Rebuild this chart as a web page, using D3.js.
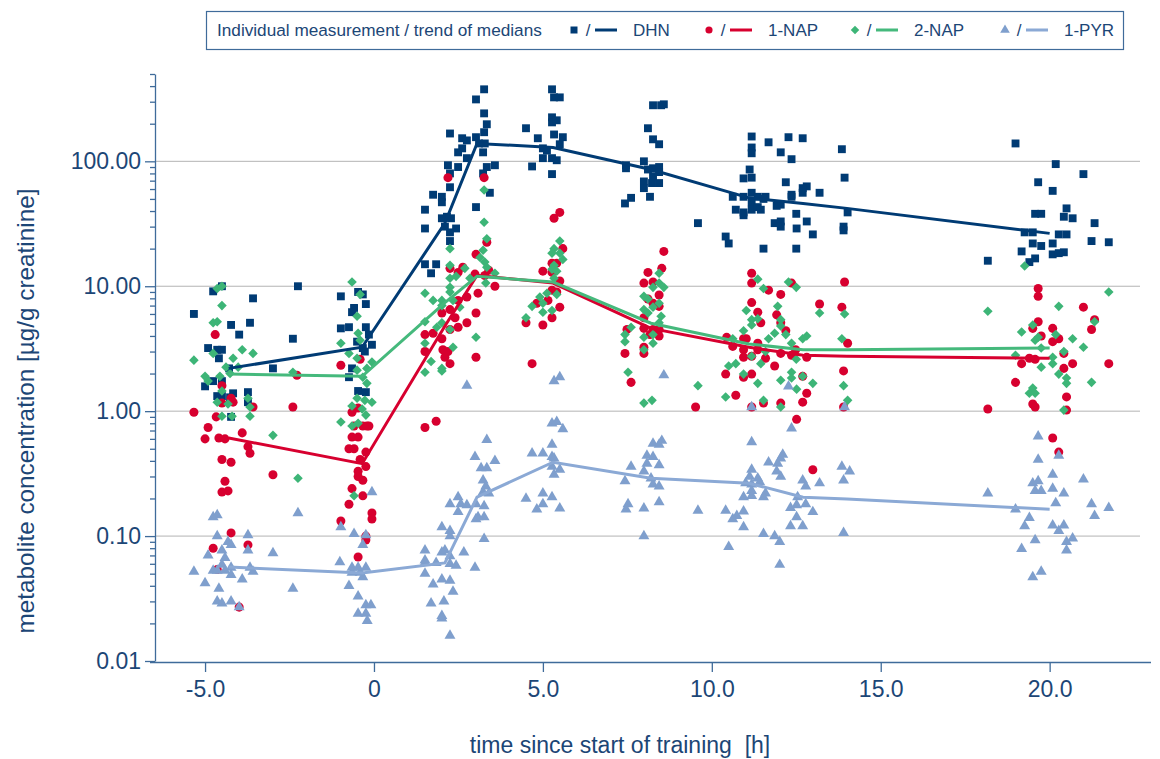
<!DOCTYPE html>
<html>
<head>
<meta charset="utf-8">
<script src="https://cdn.jsdelivr.net/npm/d3@7"></script>
<style>
  body { margin: 0; background: #fff; }
  text { font-family: "Liberation Sans", Arial, sans-serif; }
</style>
</head>
<body>
<div id="chart"></div>
<script>
// Individual measurements: [hours since start of training, µg/g creatinine]
const dhnPoints = [
  [-5.33,6.0],[-4.76,9.1],[-4.5,10],[-3.58,8.0],[-4.23,4.9],[-3.67,5.1],[-3.99,4.1],[-4.91,3.2],[-4.64,3.1],[-4.5,3.1],
  [-4.59,2.65],[-4.29,2.2],[-4.76,1.74],[-5.0,1.58],[-4.5,1.74],[-4.17,1.39],[-3.73,1.42],[-4.64,1.32],[-4.5,1.32],[-4.26,1.29],
  [-3.73,1.18],[-4.23,0.9],[-2.25,10.0],[-2.99,2.2],[-2.4,3.8],
  [-0.98,8.3],[-0.47,9.0],[-0.33,8.6],[-0.24,7.2],[-0.59,6.7],[-0.65,6.2],[-0.74,4.7],[-0.98,4.6],[-0.24,4.7],[-0.15,4.1],
  [-0.5,3.6],[-0.33,3.2],[-0.06,3.4],[-0.27,3.0],[-0.65,2.2],[-0.74,1.87],[-0.47,1.45],[-0.24,1.42],
  [3.26,377],[3.02,313],[3.26,242],[3.34,198],[2.25,167],[2.61,153],[2.75,147],[3.02,156],[3.26,171],[3.11,139],
  [3.28,139],[2.61,127],[2.49,118],[3.23,118],[2.75,106],[2.19,93],[2.49,90],[3.58,93],[3.34,90],[2.25,80],
  [3.23,80],[2.25,62],[3.43,56],[1.75,54],[2.01,52],[2.01,47],[3.02,43],[1.51,41],[2.16,36],[2.01,35],
  [2.28,35],[2.1,30],[2.43,29],[2.25,27],[2.25,23],[1.51,29],[1.51,15],[1.84,15],[1.69,12.7],
  [4.5,184],[4.85,153],[5.27,377],[5.33,325],[5.5,325],[5.27,225],[5.27,205],[5.41,213],[5.33,164],[5.59,156],
  [5.5,137],[5.0,127],[5.12,122],[5.0,106],[5.27,106],[5.41,102],[4.68,91],[5.27,79],
  [8.26,281],[8.5,281],[8.58,286],[8.11,184],[8.26,150],[8.44,137],[7.99,100],[7.46,93],[7.46,88],[8.11,86],
  [8.26,88],[8.44,90],[8.44,82],[8.26,76],[7.99,69],[7.99,61],[8.23,67],[8.44,67],[8.17,52],[7.61,51],[7.43,46],[9.59,32],
  [11.18,158],[11.18,129],[11.18,116],[11.68,142],[12.04,118],[12.27,156],[12.69,153],[12.36,104],[13.85,125],[11.12,86],
  [10.94,73],[11.18,74],[12.19,68],[12.81,63],[12.69,61],[12.69,56],[13.19,56],[13.93,74],[10.62,52],[10.94,52],
  [11.18,56],[11.36,52],[11.59,52],[11.53,50],[11.18,47],[12.36,54],[12.36,52],[12.04,45],[11.92,44],[10.71,41],
  [10.94,39],[10.94,37],[11.18,41],[11.36,43],[11.45,41],[14.02,39],[12.5,38],[11.86,32],[12.04,33],[12.04,30],
  [12.81,33],[12.51,29],[13.9,30],[13.9,28],[12.99,26],[10.41,25],[10.5,22],[11.53,20],[12.5,20],
  [18.99,139],[20.18,95],[21.0,79],[19.66,68],[20.09,58],[20.5,42],[19.57,38],[19.75,38],[20.42,36],[20.68,35],
  [21.33,32],[19.26,27],[19.5,27],[20.27,26],[20.5,26],[21.24,23],[21.75,22.5],[19.5,22],[20.09,22],[19.75,21],
  [19.17,19],[20.09,18],[20.27,18.4],[20.42,18.7],[19.57,16.7],[19.4,15.6],[18.17,16]
];
const nap1Points = [
  [-4.7,4.1],[-5.33,0.98],[-4.67,0.9],[-4.91,0.74],[-5.0,0.6],[-4.59,0.61],[-4.41,0.6],[-3.9,0.67],[-3.73,0.52],[-3.67,0.46],
  [-4.5,0.41],[-4.23,0.39],[-4.23,1.27],[-4.17,1.18],[-4.5,1.16],[-3.58,1.08],[-4.41,0.275],[-4.32,0.23],[-4.5,0.225],[-2.99,0.31],
  [-2.4,1.08],[-2.28,1.94],[-4.23,0.106],[-3.73,0.085],[-4.76,0.08],[-4.64,0.054],[-3.99,0.027],[-4.5,1.6],
  [-0.98,2.33],[-0.41,2.6],[-0.65,0.98],[-0.47,1.06],[-0.59,0.76],[-0.33,0.76],[-0.21,0.76],[-0.15,0.76],[-0.65,0.62],[-0.47,0.62],
  [-0.74,0.5],[-0.59,0.5],[-0.24,0.47],[-0.41,0.41],[-0.24,0.36],[-0.47,0.33],[-0.47,0.3],[-0.33,0.28],[-0.65,0.24],[-0.33,0.21],
  [-0.74,0.18],[-0.06,0.153],[-0.06,0.137],[-0.98,0.132],[-0.24,0.1],[-0.24,0.093],[-0.47,0.068],
  [2.19,74],[3.26,74],[3.02,18],[3.34,22.5],[2.63,14.2],[2.49,12.9],[2.25,13.9],[3.4,13.4],[2.99,12.5],[3.28,12.2],
  [3.58,10],[3.08,8.8],[2.75,8.2],[2.49,7.7],[2.01,6.1],[2.25,6.5],[2.4,5.6],[2.75,5.1],[2.49,4.7],[2.25,4.5],
  [1.51,4.1],[1.75,4.2],[2.01,3.8],[2.04,3.1],[2.1,2.7],[2.25,2.4],[1.51,3.0],[3.02,6.1],[3.02,2.7],[2.19,3.0],[1.51,0.74],[1.84,0.83],
  [5.5,39],[5.33,35],[5.59,20],[5.27,15.3],[5.41,15.3],[5.0,13.2],[5.27,12.9],[5.5,11],[5.27,9.3],[5.41,9.0],
  [4.82,7.3],[5.15,7.7],[5.5,6.8],[4.5,5.1],[5.0,4.9],[5.27,5.6],[4.68,2.4],
  [8.58,19],[8.52,13.9],[8.11,12.9],[7.99,10.6],[8.26,10.8],[8.44,8.5],[8.11,7.9],[8.26,7.3],[8.44,6.9],[7.99,5.6],
  [7.49,4.5],[7.99,4.6],[8.26,4.5],[8.44,4.5],[8.17,4.1],[8.44,4.0],[7.99,3.25],[7.99,2.9],[7.43,2.9],[7.61,1.7],[9.52,1.08],
  [11.18,12.7],[11.18,10.6],[11.68,9.3],[12.04,8.6],[12.36,10.6],[11.18,7.4],[11.36,6.2],[11.45,5.1],[11.92,5.9],[12.04,5.1],
  [12.19,4.4],[13.19,7.2],[13.85,6.8],[13.93,10.8],[10.44,3.9],[10.62,3.3],[10.94,3.1],[10.94,3.8],[11.02,3.8],[11.36,3.5],
  [11.36,3.1],[11.18,2.75],[10.94,2.7],[11.59,2.65],[12.04,2.9],[12.36,2.8],[12.48,3.1],[12.81,2.7],[14.02,3.5],[11.86,2.3],
  [10.41,1.98],[11.18,1.98],[10.94,1.87],[12.69,1.9],[13.9,2.1],[10.71,1.34],[12.81,1.39],[12.69,1.18],[11.53,1.16],[12.04,1.16],
  [11.18,1.08],[13.9,1.08],[12.51,0.86],[12.99,0.34],
  [19.66,9.6],[19.66,8.3],[21.0,6.8],[21.33,5.4],[21.24,4.5],[19.66,5.2],[19.5,4.6],[20.09,4.6],[19.75,4.0],[20.27,3.8],
  [20.09,3.6],[20.42,2.9],[19.4,2.65],[19.57,2.6],[19.17,2.4],[20.68,2.4],[20.42,2.2],[21.75,2.4],[18.99,1.7],[20.5,1.3],
  [19.5,1.14],[19.57,1.08],[20.5,1.02],[18.17,1.04],[20.09,0.61],[20.27,0.47]
];
const nap2Points = [
  [-4.64,9.6],[-4.5,10],[-4.5,7.0],[-4.76,5.1],[-4.64,5.2],[-5.33,2.56],[-4.76,2.9],[-3.9,3.1],[-3.58,2.9],[-4.17,2.65],
  [-4.38,2.25],[-4.02,2.25],[-5.0,1.9],[-4.91,1.74],[-4.56,1.9],[-4.26,2.0],[-4.5,1.45],[-4.64,1.18],[-4.32,1.14],[-3.73,1.27],
  [-3.67,1.08],[-4.5,0.91],[-3.67,0.91],[-4.2,0.91],[-2.99,0.64],[-2.25,0.29],[-2.4,2.05],
  [-0.65,10.8],[-0.41,8.6],[-0.5,5.75],[-0.98,3.5],[-0.74,2.9],[-0.47,4.2],[-0.41,3.7],[-0.5,2.65],[-0.21,2.2],[-0.06,2.47],
  [-0.5,2.13],[-0.33,1.87],[-0.21,1.67],[-0.5,1.27],[-0.27,1.22],[-0.06,1.18],[-0.65,1.1],[-0.35,1.04],[-0.24,0.93],[-0.98,0.82],
  [-0.65,0.76],[-0.47,0.8],[-0.59,0.21],
  [3.26,59],[3.26,32.5],[3.34,24],[2.25,20],[3.23,19.4],[3.14,17],[3.28,15.6],[3.34,14.2],[2.25,14.7],[2.69,13.9],
  [2.43,12],[2.25,11.6],[2.84,11.6],[3.58,12.7],[3.31,10.6],[2.25,9.8],[2.25,9.0],[1.51,8.8],[2.01,7.7],[1.75,7.7],
  [2.34,7.7],[2.01,7.0],[2.54,6.8],[1.51,5.2],[1.86,4.7],[2.25,4.5],[2.01,5.1],[3.02,3.9],[2.34,3.25],[1.51,3.5],
  [1.69,2.5],[2.01,2.2],[1.51,2.05],[2.01,2.1],
  [5.5,23],[5.33,20],[5.27,18.4],[5.5,18.4],[5.59,16.4],[5.33,14.7],[5.27,13.7],[5.41,13.2],[5.33,11.6],[4.91,8.2],
  [5.12,8.8],[5.0,7.3],[4.68,6.9],[5.27,6.4],[4.5,5.6],[5.0,6.2],[5.41,8.6],
  [8.44,12.7],[8.44,10.6],[8.26,9.8],[8.58,9.8],[7.99,8.3],[8.11,7.9],[8.44,7.3],[8.26,6.8],[7.99,6.5],[8.11,6.1],
  [8.5,5.75],[8.44,5.1],[7.61,4.7],[7.43,4.1],[7.99,3.9],[8.26,4.1],[7.43,3.6],[8.26,3.5],[7.99,3.1],[7.52,2.05],
  [7.99,1.16],[8.23,1.22],[9.59,1.6],
  [11.36,11.4],[11.53,9.6],[12.27,10.8],[12.5,9.8],[11.95,6.9],[11.02,6.4],[11.18,5.4],[11.36,5.5],[12.04,5.4],[12.04,4.8],
  [10.94,4.4],[11.18,4.9],[12.19,4.1],[11.86,4.2],[10.62,3.8],[11.68,3.8],[12.81,4.0],[12.69,3.8],[12.36,3.5],[13.19,6.1],
  [13.93,6.0],[13.85,3.8],[11.59,3.0],[11.18,2.75],[12.5,2.6],[11.45,2.4],[10.71,2.4],[10.5,2.3],[10.94,1.98],[12.04,1.77],
  [12.36,2.05],[12.36,1.84],[12.69,1.9],[12.99,1.67],[11.36,1.67],[12.51,1.5],[13.9,1.6],[10.41,1.3],[11.53,1.22],[12.04,1.08],[14.02,1.22],
  [19.26,14.5],[21.75,9.0],[18.17,6.3],[20.27,6.9],[19.5,4.9],[19.17,4.3],[21.33,5.2],[20.18,4.1],[20.68,3.8],[21.0,3.25],
  [19.57,3.7],[19.66,3.9],[19.75,3.2],[20.42,3.0],[18.99,2.8],[20.09,2.7],[20.09,2.4],[19.75,2.25],[20.27,1.98],[20.5,1.84],
  [20.5,1.67],[21.24,1.7],[19.5,1.53],[19.4,1.39],[19.57,1.39],[20.42,1.02]
];
const pyrPoints = [
  [-4.76,0.142],[-4.64,0.147],[-2.25,0.153],[-4.64,0.1],[-4.32,0.09],[-4.23,0.085],[-3.73,0.102],[-3.73,0.077],[-4.91,0.07],[-4.5,0.077],
  [-4.41,0.067],[-4.5,0.059],[-4.76,0.053],[-4.64,0.053],[-4.23,0.056],[-4.41,0.053],[-5.33,0.052],[-4.23,0.049],[-3.9,0.045],[-3.67,0.056],
  [-3.58,0.052],[-2.99,0.073],[-5.0,0.042],[-4.59,0.038],[-2.4,0.038],[-4.64,0.03],[-4.5,0.029],[-4.23,0.03],[-3.99,0.027],
  [-0.06,0.225],[-0.98,0.118],[-0.59,0.104],[-0.24,0.102],[-0.33,0.085],[-1.01,0.062],[-0.65,0.056],[-0.47,0.056],[-0.24,0.056],[-0.41,0.051],
  [-0.33,0.047],[-0.65,0.051],[-0.74,0.04],[-0.47,0.033],[-0.24,0.028],[-0.09,0.028],[-0.47,0.024],[-0.24,0.024],[-0.2,0.021],
  [2.75,1.6],[3.34,0.59],[2.99,0.43],[3.58,0.4],[3.17,0.35],[3.34,0.35],[3.23,0.28],[3.31,0.25],[3.23,0.225],[3.4,0.22],
  [2.49,0.205],[2.25,0.18],[2.57,0.18],[2.75,0.177],[3.02,0.18],[3.26,0.174],[2.49,0.156],[3.02,0.137],[3.26,0.142],[3.08,0.142],
  [2.01,0.118],[2.25,0.11],[2.25,0.1],[3.26,0.095],[1.51,0.077],[2.01,0.074],[2.1,0.077],[2.66,0.074],[1.51,0.064],[2.25,0.069],
  [1.51,0.061],[1.84,0.061],[2.25,0.06],[2.43,0.058],[2.99,0.056],[1.51,0.05],[2.01,0.045],[1.75,0.041],[2.25,0.044],[2.34,0.036],
  [1.69,0.029],[2.07,0.03],[2.01,0.023],[2.01,0.022],[2.25,0.016],
  [5.33,1.74],[5.5,1.87],[5.27,0.8],[5.41,0.82],[5.59,0.72],[5.27,0.54],[4.68,0.46],[5.0,0.46],[5.27,0.43],[5.33,0.42],
  [5.27,0.36],[5.33,0.31],[5.5,0.34],[4.5,0.2],[5.0,0.22],[5.27,0.205],[5.0,0.18],[4.82,0.164],[5.5,0.167],
  [8.26,0.55],[8.44,0.54],[8.52,0.58],[8.08,0.44],[8.26,0.43],[7.61,0.36],[8.08,0.38],[8.44,0.37],[7.99,0.33],[7.43,0.275],
  [8.2,0.29],[8.26,0.26],[8.44,0.25],[7.52,0.18],[7.46,0.164],[7.99,0.167],[8.44,0.187],[9.59,0.16],[7.99,0.1],[8.58,1.94],
  [11.18,0.565],[11.68,0.39],[11.95,0.38],[12.04,0.42],[12.1,0.45],[11.92,0.33],[12.04,0.3],[11.18,0.34],[11.12,0.3],[11.36,0.29],
  [11.42,0.27],[11.0,0.265],[11.18,0.26],[11.18,0.23],[11.18,0.21],[11.59,0.22],[11.53,0.205],[10.94,0.205],[13.85,0.36],[14.08,0.33],
  [13.9,0.28],[12.69,0.28],[12.78,0.25],[13.19,0.265],[12.54,0.205],[12.78,0.18],[12.51,0.177],[12.33,0.168],[12.99,0.156],[12.51,0.142],
  [12.33,0.12],[12.69,0.12],[10.41,0.16],[10.74,0.145],[10.62,0.137],[10.94,0.158],[10.94,0.118],[11.53,0.104],[11.86,0.1],[12.01,0.09],
  [10.5,0.082],[12.01,0.059],[13.9,0.106],[12.27,1.58],[11.18,1.08],[13.93,1.08],[12.36,0.73],
  [19.66,0.63],[19.66,0.41],[20.27,0.44],[20.09,0.31],[19.5,0.265],[19.66,0.275],[21.0,0.285],[19.57,0.23],[19.75,0.23],[20.09,0.24],
  [20.42,0.22],[18.17,0.22],[20.18,0.184],[21.24,0.18],[21.75,0.168],[21.33,0.145],[18.99,0.164],[19.4,0.14],[19.26,0.12],[20.09,0.122],
  [20.42,0.122],[20.27,0.11],[19.57,0.093],[20.68,0.096],[20.5,0.09],[19.17,0.079],[20.5,0.077],[19.75,0.052],[19.5,0.047]
];

// Trend of medians
const medianTimes = [-4.3, -0.35, 2.1, 3.05, 5.3, 8.2, 11.1, 12.7, 14.0, 20.0];
const dhnMedians  = [2.2, 3.25, 32, 139, 129, 86, 51, 46, 42, 26.5];
const nap1Medians = [0.61, 0.38, 4.8, 12.2, 10.6, 4.6, 3.25, 2.8, 2.75, 2.65];
const nap2Medians = [1.98, 1.9, 7.4, 12, 10.8, 5.06, 3.45, 3.1, 3.1, 3.2];
const pyrMedians  = [0.0565, 0.0506, 0.061, 0.205, 0.39, 0.29, 0.265, 0.205, 0.198, 0.164];

const seriesNames = ["DHN", "1-NAP", "2-NAP", "1-PYR"];
const yTickValues = [0.01, 0.1, 1, 10, 100];
const yTickLabels = ["0.01", "0.10", "1.00", "10.00", "100.00"];
const xTickValues = [-5, 0, 5, 10, 15, 20];
const xTickLabels = ["-5.0", "0", "5.0", "10.0", "15.0", "20.0"];

const width = 1160;
const height = 759;
const axisColor = "#3f6b9a";
const textColor = "#1c4676";

const svg = d3.select("#chart")
  .append("svg")
  .attr("width", width)
  .attr("height", height);

const x = d3.scaleLinear().domain([-6.6, 23]).range([151, 1151]);
const y = d3.scaleLog().domain([0.01, 500]).range([661, 74]);

// grid lines
svg.selectAll(".grid")
  .data([0.1, 1, 10, 100])
  .enter()
  .append("line")
  .attr("x1", 155)
  .attr("x2", 1140)
  .attr("y1", d => y(d))
  .attr("y2", d => y(d))
  .attr("stroke", "#b4b4b4")
  .attr("stroke-width", 1);

// y axis: major ticks with labels, then minor ticks
const minorTicks = [];
[0.01, 0.1, 1, 10, 100].forEach(dec => {
  for (let k = 2; k <= 9; k++) {
    if (dec * k <= 500) minorTicks.push(dec * k);
  }
});

svg.append("g")
  .attr("transform", "translate(155,0)")
  .call(d3.axisLeft(y)
    .tickValues(yTickValues)
    .tickFormat((d, i) => yTickLabels[i])
    .tickSize(10)
    .tickSizeOuter(0)
    .tickPadding(4));

svg.append("g")
  .attr("transform", "translate(155,0)")
  .call(d3.axisLeft(y).tickValues(minorTicks).tickFormat("").tickSize(5).tickSizeOuter(0))
  .select(".domain").remove();

// x axis
const xAxis = svg.append("g")
  .attr("transform", "translate(0,662)")
  .call(d3.axisBottom(x)
    .tickValues(xTickValues)
    .tickFormat((d, i) => xTickLabels[i])
    .tickSize(10)
    .tickSizeOuter(0)
    .tickPadding(9));
xAxis.select(".domain").attr("d", "M150,0.5H1151");

svg.selectAll(".domain, .tick line")
  .attr("stroke", axisColor)
  .attr("stroke-width", 1.3);
svg.selectAll(".tick text")
  .attr("fill", textColor)
  .attr("font-size", "23px")
  .attr("font-family", "Liberation Sans, Arial, sans-serif");

// axis titles
svg.append("text")
  .attr("transform", "translate(34,411) rotate(-90)")
  .attr("text-anchor", "middle")
  .attr("font-size", "24.3px")
  .attr("fill", textColor)
  .text("metabolite concentration [µg/g creatinine]");

svg.append("text")
  .attr("x", 620)
  .attr("y", 753)
  .attr("text-anchor", "middle")
  .attr("font-size", "23px")
  .attr("fill", textColor)
  .style("white-space", "pre")
  .text("time since start of training  [h]");

// marker shapes and colours for each series
const colors = {"DHN": "#003b74", "1-NAP": "#d7002f", "2-NAP": "#3db577", "1-PYR": "#7f9fcd"};
const lineColors = {"DHN": "#003b74", "1-NAP": "#d7002f", "2-NAP": "#45b97c", "1-PYR": "#8ba9d5"};
const shapes = {
  "DHN": d3.symbol().type(d3.symbolSquare).size(62),
  "1-NAP": d3.symbol().type(d3.symbolCircle).size(64),
  "2-NAP": d3.symbol().type(d3.symbolSquare).size(46),
  "1-PYR": d3.symbol().type(d3.symbolTriangle).size(52)
};
const rotate = {"DHN": 0, "1-NAP": 0, "2-NAP": 45, "1-PYR": 0};

const pointSets = {"DHN": dhnPoints, "1-NAP": nap1Points, "2-NAP": nap2Points, "1-PYR": pyrPoints};
const medianSets = {"DHN": dhnMedians, "1-NAP": nap1Medians, "2-NAP": nap2Medians, "1-PYR": pyrMedians};

seriesNames.forEach(name => {
  svg.append("g")
    .selectAll("path")
    .data(pointSets[name])
    .enter()
    .append("path")
    .attr("d", shapes[name])
    .attr("transform", d => `translate(${x(d[0])},${y(d[1])}) rotate(${rotate[name]})`)
    .attr("fill", colors[name]);
});

// median trend lines on top
const line = d3.line()
  .x((d, i) => x(medianTimes[i]))
  .y(d => y(d));

seriesNames.forEach(name => {
  svg.append("path")
    .datum(medianSets[name])
    .attr("d", line)
    .attr("fill", "none")
    .attr("stroke", lineColors[name])
    .attr("stroke-width", 3);
});

// legend
svg.append("rect")
  .attr("x", 206.5)
  .attr("y", 11.5)
  .attr("width", 917)
  .attr("height", 38)
  .attr("fill", "#fff")
  .attr("stroke", axisColor)
  .attr("stroke-width", 1.2);

svg.append("text")
  .attr("x", 217)
  .attr("y", 36)
  .attr("font-size", "17.2px")
  .attr("fill", textColor)
  .text("Individual measurement / trend of medians");

const legendX = [574, 709, 855, 1005];
const legendShapes = {
  "DHN": d3.symbol().type(d3.symbolSquare).size(49),
  "1-NAP": d3.symbol().type(d3.symbolCircle).size(40),
  "2-NAP": d3.symbol().type(d3.symbolSquare).size(36),
  "1-PYR": d3.symbol().type(d3.symbolTriangle).size(40)
};

seriesNames.forEach((name, i) => {
  const lx = legendX[i];
  svg.append("path")
    .attr("d", legendShapes[name])
    .attr("transform", `translate(${lx},30) rotate(${rotate[name]})`)
    .attr("fill", colors[name]);
  svg.append("text")
    .attr("x", lx + 14)
    .attr("y", 36)
    .attr("text-anchor", "middle")
    .attr("font-size", "17px")
    .attr("fill", textColor)
    .text("/");
  svg.append("line")
    .attr("x1", lx + 21)
    .attr("x2", lx + 43)
    .attr("y1", 30)
    .attr("y2", 30)
    .attr("stroke", lineColors[name])
    .attr("stroke-width", 3);
  svg.append("text")
    .attr("x", lx + 59)
    .attr("y", 36)
    .attr("font-size", "17px")
    .attr("fill", textColor)
    .text(name);
});
</script>
</body>
</html>
